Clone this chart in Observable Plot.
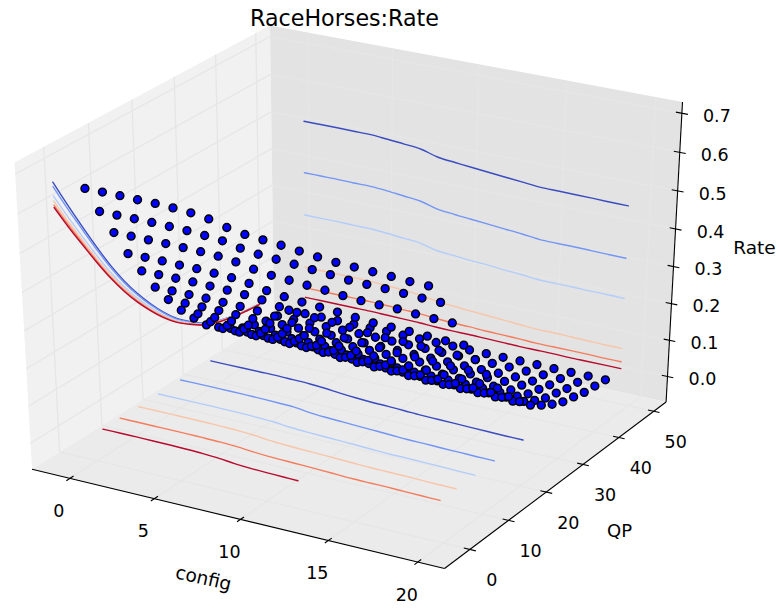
<!DOCTYPE html>
<html><head><meta charset="utf-8">
<style>html,body{margin:0;padding:0;background:#fff}svg{display:block}</style>
<script src="https://cdn.jsdelivr.net/npm/d3@7"></script>
<script src="https://cdn.jsdelivr.net/npm/@observablehq/plot@0.6"></script>
</head><body><script>
const configs=[0,1,2,3,4,5,6,7,8,9,10,11,12,13,14,15,16,17,18,19];
const qps=[0,3,6,9,12,15,18,21,24,27,30,33,36,39,42,45,48];
const rateQP0=[.645,.645,.645,.644,.644,.642,.639,.633,.621,.613,.609,.605,.600,.595,.591,.589,.587,.585,.582,.581];
const rateQP3=[.568,.568,.568,.568,.567,.566,.563,.559,.550,.544,.541,.538,.534,.531,.527,.526,.525,.523,.521,.520];
const rateQP6=[.495,.495,.495,.495,.494,.493,.491,.486,.477,.471,.468,.465,.462,.458,.455,.454,.454,.451,.449,.448];
const rateQP9=[.421,.421,.421,.420,.420,.418,.416,.411,.402,.396,.392,.389,.386,.382,.378,.377,.376,.374,.372,.371];
const rateQP12=[.356,.356,.356,.356,.355,.354,.352,.348,.340,.335,.331,.329,.326,.322,.319,.319,.317,.316,.314,.313];
const rateQP15=[.293,.293,.293,.293,.292,.291,.289,.285,.278,.273,.270,.268,.265,.262,.259,.258,.257,.255,.254,.253];
const rateQP18=[.240,.240,.240,.240,.239,.238,.236,.232,.223,.218,.215,.212,.209,.206,.203,.202,.200,.199,.197,.196];
const rateQP21=[.191,.191,.191,.191,.190,.189,.187,.184,.176,.172,.169,.166,.164,.161,.158,.157,.156,.154,.153,.152];
const rateQP24=[.149,.149,.149,.149,.148,.147,.146,.143,.137,.133,.131,.129,.127,.124,.122,.121,.120,.119,.118,.117];
const rateQP27=[.110,.110,.110,.110,.110,.109,.108,.105,.101,.098,.096,.095,.093,.091,.090,.089,.088,.087,.086,.086];
const rateQP30=[.083,.083,.083,.083,.083,.082,.081,.079,.076,.074,.072,.071,.070,.068,.067,.066,.066,.065,.064,.064];
const rateQP33=[.059,.059,.059,.059,.059,.058,.058,.056,.054,.052,.051,.050,.049,.048,.047,.047,.046,.046,.045,.045];
const rateQP36=[.040,.040,.040,.040,.040,.039,.039,.038,.036,.035,.034,.034,.033,.032,.032,.031,.031,.031,.030,.030];
const rateQP39=[.028,.028,.028,.028,.028,.028,.027,.027,.026,.025,.025,.024,.024,.023,.023,.023,.023,.022,.022,.022];
const rateQP42=[.018,.018,.018,.018,.018,.018,.017,.017,.016,.015,.015,.015,.014,.014,.014,.014,.013,.013,.013,.013];
const rateQP45=[.012,.012,.012,.012,.012,.012,.012,.011,.011,.011,.010,.010,.010,.010,.010,.009,.009,.009,.009,.009];
const rateQP48=[.008,.008,.008,.008,.008,.008,.008,.007,.007,.007,.007,.006,.006,.006,.006,.006,.005,.005,.005,.005];
const rateRows=[rateQP0,rateQP3,rateQP6,rateQP9,rateQP12,rateQP15,rateQP18,rateQP21,rateQP24,rateQP27,rateQP30,rateQP33,rateQP36,rateQP39,rateQP42,rateQP45,rateQP48];

// Contours of Rate on the floor: QP reached at each config
const floorLevel01=[27.87,27.87,27.87,27.87,27.87,27.76,27.64,27.35,26.92,26.58,26.33,26.2,26.01,25.81,25.7,25.6,25.5,25.4,25.3,25.27];
const floorLevel02=[20.36,20.36,20.36,20.36,20.3,20.24,20.11,19.91,19.37,19.07,18.87,18.67,18.48,18.28,18.07,18,17.87,17.8,17.69,17.64];
const floorLevel03=[14.9,14.9,14.9,14.9,14.85,14.78,14.66,14.45,14.05,13.8,13.6,13.48,13.3,13.1,12.93,12.9,12.8,12.72,12.6,12.52];
const floorLevel04=[10.05,10.05,10.05,10.02,10,9.9,9.78,9.53,9.1,8.84,8.66,8.53,8.38,8.2,8.03,7.98,7.93,7.82,7.72,7.68];
const floorLevel05=[5.69,5.69,5.69,5.69,5.65,5.61,5.52,5.32,4.95,4.68,4.55,4.42,4.26,4.11,3.95,3.9,3.87,3.76,3.67,3.63];
const floorLevel06=[1.6,1.6,1.6,1.58,1.55,1.45,1.3,1.05,.62,.35,.2,.1,0];
const floorLevel06Configs=[0,1,2,3,4,5,6,7,8,9,10,11,11.8];
const floorLines=[floorLevel01,floorLevel02,floorLevel03,floorLevel04,floorLevel05,floorLevel06];
const floorConfigs=[configs,configs,configs,configs,configs,floorLevel06Configs];

// Rate along config, projected on the back wall
const wallBlue=[.501,.501,.501,.5005,.500,.4965,.4925,.4875,.475,.470,.4656,.4613,.457,.453,.449,.4484,.4476,.447,.446,.4456];
const wallMid=[.362,.362,.362,.361,.361,.358,.353,.348,.336,.331,.327,.323,.319,.315,.310,.309,.309,.308,.307,.3065];
const wallLight=[.246,.246,.246,.245,.245,.242,.238,.234,.223,.219,.215,.212,.208,.205,.201,.200,.200,.199,.199,.198];
const wallPeach=[.100,.100,.100,.100,.099,.097,.094,.090,.083,.079,.076,.073,.070,.067,.064,.064,.063,.062,.061,.061];
const wallOrange=[.042,.042,.042,.042,.042,.041,.039,.038,.034,.032,.031,.029,.028,.027,.025,.025,.025,.025,.024,.024];
const wallRed=[.015,.015,.015,.015,.015,.014,.013,.012,.010,.009,.009,.008,.007,.006,.006,.006,.005,.005,.005,.005];
const wallLines=[wallBlue,wallMid,wallLight,wallPeach,wallOrange,wallRed];

// Rate along QP, projected on the side wall
const sideBlue=[.644,.567,.493,.421,.353,.292,.238,.190,.147,.110,.081,.056,.038,.026,.017,.011,.007];
const sideMid=[.633,.557,.485,.414,.347,.287,.234,.187,.145,.108,.080,.055,.037,.026,.017,.011,.007];
const sideLight=[.609,.536,.466,.398,.334,.276,.225,.180,.139,.104,.077,.053,.036,.025,.016,.010,.007];
const sidePeach=[.596,.524,.456,.389,.327,.270,.220,.176,.136,.102,.075,.052,.035,.024,.016,.010,.006];
const sideOrange=[.586,.516,.449,.383,.321,.266,.217,.173,.134,.100,.074,.051,.035,.024,.015,.010,.006];
const sideRed=[.580,.510,.444,.379,.318,.263,.214,.171,.132,.099,.073,.050,.034,.023,.015,.010,.006];
const sideLines=[sideBlue,sideMid,sideLight,sidePeach,sideOrange,sideRed];

const lineColors=["#3b4cc0","#7396f5","#b3cdfb","#f8c5a9","#f47c5c","#b80a2c"];

const xTicks=[0,5,10,15,20], yTicks=[0,10,20,30,40,50], zTicks=[0,.1,.2,.3,.4,.5,.6,.7];
const xLim=[-1.8,21], yLim=[-5.2,52.4], zLim=[-.0553,.7127];
const floorZ=.004, wallY=52.4, sideX=-1.85;

// mplot3d view: elev 30, azim -60, dist 10
const el=30*Math.PI/180, az=-60*Math.PI/180, dist=10;
const n=[Math.cos(el)*Math.cos(az),Math.cos(el)*Math.sin(az),Math.sin(el)];
const cross=(a,b)=>[a[1]*b[2]-a[2]*b[1],a[2]*b[0]-a[0]*b[2],a[0]*b[1]-a[1]*b[0]];
const uu=(()=>{const c=cross([0,0,1],n),l=Math.hypot(...c);return c.map(d=>d/l)})();
const vv=cross(n,uu);
const norm=(v,l)=>(v-l[0])/(l[1]-l[0]);
function P(x,y,z){
  const p=[norm(x,xLim)-.5,norm(y,yLim)-.5,norm(z,zLim)-.5];
  const dot=(a,b)=>a[0]*b[0]+a[1]*b[1]+a[2]*b[2];
  const w=dist-dot(n,p);
  return {x:dot(uu,p)/w,y:dot(vv,p)/w,d:w};
}
const ext=l=>{const d=(l[1]-l[0])/48;return [l[0]-d,l[1]+d]};
const [x0,x1]=ext(xLim),[y0,y1]=ext(yLim),[z0,z1]=ext(zLim);
const pt=(a,b,c,extra)=>({...P(a,b,c),...extra});
const poly=(corners)=>corners.map(c=>P(...c));

const side=poly([[x0,y0,z0],[x0,y1,z0],[x0,y1,z1],[x0,y0,z1],[x0,y0,z0]]);
const back=poly([[x0,y1,z0],[x1,y1,z0],[x1,y1,z1],[x0,y1,z1],[x0,y1,z0]]);
const floor=poly([[x0,y0,z0],[x1,y0,z0],[x1,y1,z0],[x0,y1,z0],[x0,y0,z0]]);

function seg(a,b){const p=P(...a),q=P(...b);return {x1:p.x,y1:p.y,x2:q.x,y2:q.y}}
const grid=[];
xTicks.forEach(t=>{grid.push(seg([t,y0,z0],[t,y1,z0]),seg([t,y1,z0],[t,y1,z1]))});
yTicks.forEach(t=>{grid.push(seg([x0,t,z0],[x1,t,z0]),seg([x0,t,z0],[x0,t,z1]))});
zTicks.forEach(t=>{grid.push(seg([x0,y0,t],[x0,y1,t]),seg([x0,y1,t],[x1,y1,t]))});

const dxT=(x1-x0)*.014, dyT=(y1-y0)*.014;
const axes=[seg([x0,y0,z0],[x1,y0,z0]),seg([x1,y0,z0],[x1,y1,z0]),seg([x1,y1,z0],[x1,y1,z1])];
const ticks=[
  ...xTicks.map(t=>seg([t,y0-dyT,z0],[t,y0+dyT,z0])),
  ...yTicks.map(t=>seg([x1-dxT,t,z0],[x1+dxT,t,z0])),
  ...zTicks.map(t=>seg([x1-dxT,y1,t],[x1+dxT,y1,t]))
];
const xLabels=xTicks.map(t=>pt(t,y0,z0,{t:String(t)}));
const yLabels=yTicks.map(t=>pt(x1,t,z0,{t:String(t)}));
const zLabels=zTicks.map(t=>pt(x1,y1,t,{t:t.toFixed(1)}));

const floorData=floorLines.map((l,k)=>l.map((q,i)=>P(floorConfigs[k][i],q,floorZ)));
const wallData=wallLines.map(l=>l.map((z,i)=>P(configs[i],wallY,z)));
const sideData=sideLines.map(l=>l.map((z,i)=>P(sideX,qps[i],z)));
const dots=[];
rateRows.forEach((row,i)=>row.forEach((z,j)=>dots.push(P(configs[j],qps[i],z))));
dots.sort((a,b)=>b.d-a.d);

const font="DejaVu Sans";
const lineMarks=[];
[sideData,floorData,wallData].forEach(group=>group.forEach((d,i)=>
  lineMarks.push(Plot.line(d,{x:"x",y:"y",stroke:lineColors[i],strokeWidth:1.4,curve:"catmull-rom"}))));

const chart=Plot.plot({
  width:779,height:608,margin:0,
  x:{axis:null,domain:[P(x0,y0,z1).x,P(x1,y1,z1).x],range:[14,682]},
  y:{axis:null,domain:[P(x1,y0,z0).y,P(x0,y1,z1).y],range:[568,25]},
  style:{fontFamily:font,background:"#fff"},
  marks:[
    Plot.line(side,{x:"x",y:"y",fill:"#f1f1f1",stroke:"none"}),
    Plot.line(back,{x:"x",y:"y",fill:"#e3e3e3",stroke:"none"}),
    Plot.line(floor,{x:"x",y:"y",fill:"#ebebeb",stroke:"none"}),
    Plot.link(grid,{x1:"x1",y1:"y1",x2:"x2",y2:"y2",stroke:"#e6e6e6",strokeWidth:1.3}),
    Plot.link(axes,{x1:"x1",y1:"y1",x2:"x2",y2:"y2",stroke:"#000",strokeWidth:1.1}),
    Plot.link(ticks,{x1:"x1",y1:"y1",x2:"x2",y2:"y2",stroke:"#000",strokeWidth:1.1}),
    ...lineMarks,
    Plot.dot(dots,{x:"x",y:"y",r:3.9,fill:"#0000ff",stroke:"#000",strokeWidth:1.5}),
    Plot.text(xLabels,{x:"x",y:"y",text:"t",dx:-11,dy:33,fontSize:17.5,fill:"#000"}),
    Plot.text(yLabels,{x:"x",y:"y",text:"t",dx:22,dy:31,fontSize:17.5,fill:"#000"}),
    Plot.text(zLabels,{x:"x",y:"y",text:"t",dx:35,dy:3,fontSize:17.5,fill:"#000"}),
    Plot.text(["config"],{frameAnchor:"top-left",dx:203,dy:578,text:d=>d,rotate:13,fontSize:18.5,fill:"#000",textAnchor:"middle",lineAnchor:"middle"}),
    Plot.text(["QP"],{frameAnchor:"top-left",dx:619,dy:531,text:d=>d,fontSize:18,fill:"#000",textAnchor:"middle",lineAnchor:"middle"}),
    Plot.text(["Rate"],{frameAnchor:"top-left",dx:754,dy:248,text:d=>d,fontSize:18.5,fill:"#000",textAnchor:"middle",lineAnchor:"middle"}),
    Plot.text(["RaceHorses:Rate"],{frameAnchor:"top-left",dx:344,dy:18,text:d=>d,fontSize:22.2,fill:"#000",textAnchor:"middle",lineAnchor:"middle"})
  ]
});
document.body.appendChild(chart);
</script></body></html>
